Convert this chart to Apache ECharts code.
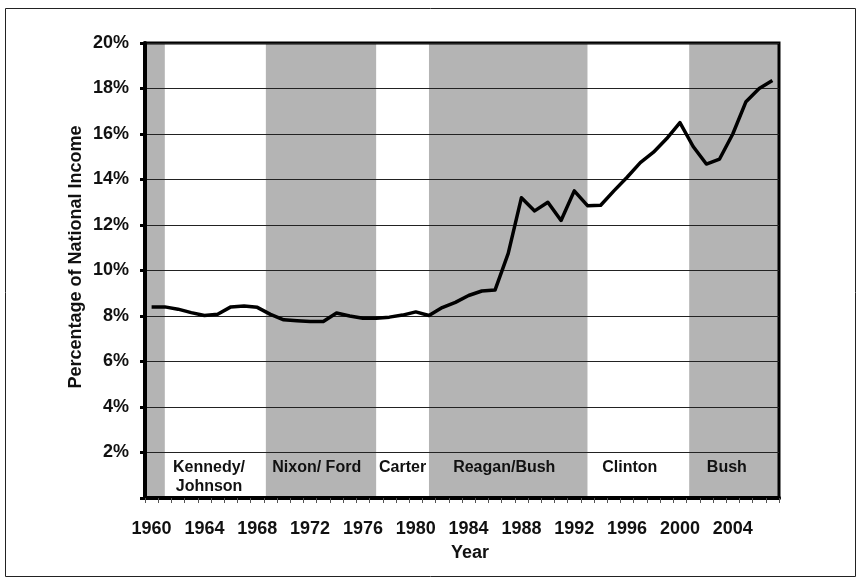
<html>
<head>
<meta http-equiv="Content-Type" content="text/html; charset=utf-8" />
<script src="https://cdn.jsdelivr.net/npm/echarts@6/dist/echarts.min.js"></script>
<style>
  html, body { margin: 0; padding: 0; background: #fff; }
</style>
</head>
<body>
<div id="chart" style="width:863px;height:585px;"></div>
<script type="text/javascript">
// years on the category axis
var years = [];
for (var y = 1960; y <= 2007; y++) { years.push(String(y)); }

// share of national income (%)
var incomeShare = [
  8.40, 8.40, 8.30, 8.15, 8.02, 8.08, 8.40, 8.44, 8.38, 8.07,
  7.83, 7.79, 7.76, 7.76, 8.13, 8.00, 7.90, 7.90, 7.95, 8.04,
  8.18, 8.02, 8.37, 8.60, 8.90, 9.10, 9.14, 10.75, 13.20, 12.62,
  13.00, 12.20, 13.50, 12.85, 12.87, 13.50, 14.10, 14.74, 15.20, 15.80,
  16.50, 15.45, 14.68, 14.90, 16.00, 17.42, 18.00, 18.35
];

// presidential terms: band edges (year positions), shading and label
var termNames  = ['', 'Kennedy/\nJohnson', 'Nixon/ Ford', 'Carter', 'Reagan/Bush', 'Clinton', 'Bush'];
var termStart  = [1959.5, 1961, 1968.65, 1977, 1981, 1993, 2000.7];
var termEnd    = [1961, 1968.65, 1977, 1981, 1993, 2000.7, 2007.5];
var termShaded = [1, 0, 1, 0, 1, 0, 1];
var termLabelAt = [1960, 1964.35, 1972.5, 1979.0, 1986.7, 1996.2, 2003.55];

var FONT = '"Liberation Sans", Arial, sans-serif';

var termData = [];
for (var i = 0; i < termNames.length; i++) {
  termData.push([termStart[i], termEnd[i], termShaded[i], termLabelAt[i]]);
}

var chart = echarts.init(document.getElementById('chart'));

chart.setOption({
  animation: false,
  backgroundColor: '#fff',
  grid: {
    left: 145, right: 84, top: 43, bottom: 87,
    show: true, borderColor: '#000', borderWidth: 3,
    backgroundColor: 'transparent', z: 3
  },
  graphic: [
    {
      type: 'rect', z: 0, silent: true,
      shape: { x: 5.5, y: 8.5, width: 850, height: 568 },
      style: { fill: 'none', stroke: '#222', lineWidth: 1 }
    },
    {
      type: 'text', z: 10, x: 76, y: 257, rotation: Math.PI / 2,
      style: {
        text: 'Percentage of National Income', fill: '#111',
        font: 'bold 18px ' + FONT, align: 'center', verticalAlign: 'middle'
      }
    }
  ],
  xAxis: [
    {
      type: 'category', data: years, boundaryGap: true, z: 3,
      axisLine: { lineStyle: { color: '#000', width: 4 } },
      axisTick: { show: true, interval: 0, length: 5, lineStyle: { color: '#555', width: 1 } },
      axisLabel: { interval: 3, margin: 22, color: '#111', fontSize: 18, fontWeight: 'bold', fontFamily: FONT },
      splitLine: { show: false },
      name: 'Year', nameLocation: 'middle', nameGap: 46,
      nameTextStyle: { color: '#111', fontSize: 18, fontWeight: 'bold', fontFamily: FONT, padding: [0, 0, 0, 16] }
    },
    {
      type: 'value', min: 1959.5, max: 2007.5, show: false, position: 'bottom'
    }
  ],
  yAxis: {
    type: 'value', min: 0, max: 20, interval: 2, z: 3,
    axisLine: { show: true, lineStyle: { color: '#000', width: 4 } },
    axisTick: { show: true, length: 5, lineStyle: { color: '#000', width: 3 } },
    axisLabel: {
      margin: 16, color: '#111', fontSize: 18, fontWeight: 'bold', fontFamily: FONT,
      formatter: function (v) { return v === 0 ? '' : v + '%'; }
    },
    splitLine: { show: true, lineStyle: { color: '#222', width: 1 } }
  },
  series: [
    {
      type: 'custom', xAxisIndex: 1, yAxisIndex: 0, z: 1, silent: true,
      data: termData,
      renderItem: function (params, api) {
        var p0 = api.coord([api.value(0), 20]);
        var p1 = api.coord([api.value(1), 0]);
        var pl = api.coord([api.value(3), 0]);
        var children = [];
        if (api.value(2) === 1) {
          children.push({
            type: 'rect',
            shape: { x: p0[0], y: p0[1], width: p1[0] - p0[0], height: p1[1] - p0[1] },
            style: { fill: '#b4b4b4' }
          });
        }
        var name = termNames[params.dataIndex];
        if (name) {
          children.push({
            type: 'text',
            style: {
              text: name, x: pl[0], y: pl[1] - 40, fill: '#111',
              font: 'bold 16px ' + FONT, align: 'center', verticalAlign: 'top', lineHeight: 19
            }
          });
        }
        return { type: 'group', children: children };
      }
    },
    {
      type: 'line', xAxisIndex: 0, yAxisIndex: 0, z: 5,
      data: incomeShare, symbol: 'none', smooth: false,
      lineStyle: { color: '#000', width: 3.5, join: 'round' }
    }
  ]
});
</script>
</body>
</html>
